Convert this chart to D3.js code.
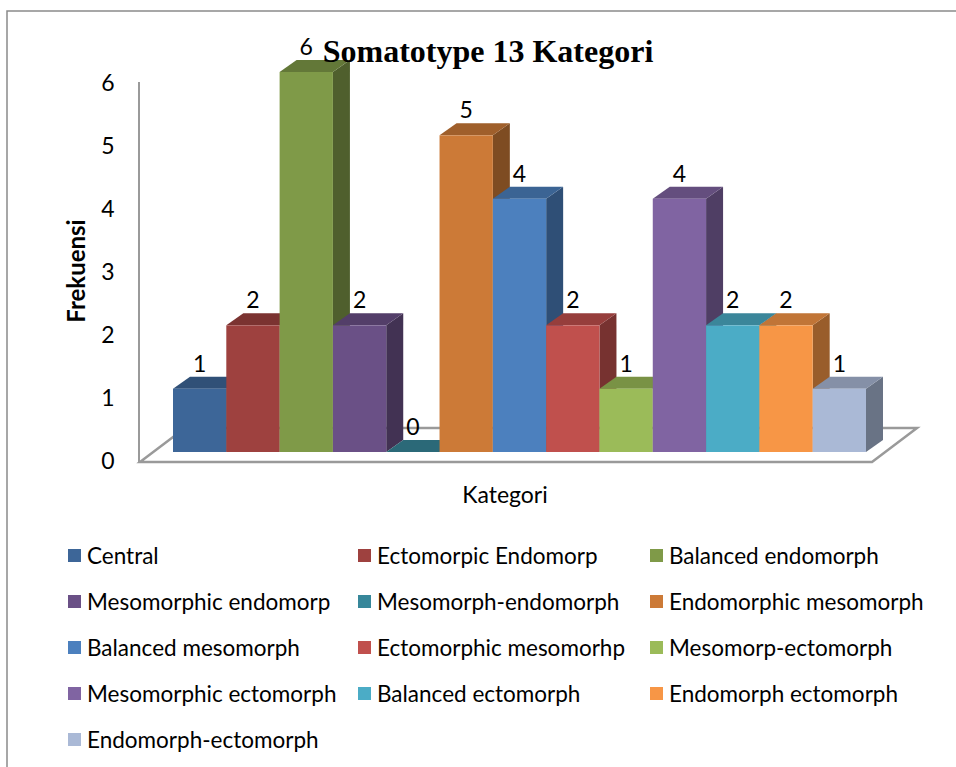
<!DOCTYPE html>
<html>
<head>
<meta charset="utf-8">
<script src="https://cdn.jsdelivr.net/npm/d3@7"></script>
<style>
  body { margin: 0; background: #fff; }
  svg text { font-family: Lato, "Open Sans", sans-serif; fill: #000; }
</style>
</head>
<body>
<svg id="chart" width="956" height="767"></svg>
<script>
// data
const categories = [
  "Central", "Ectomorpic Endomorp", "Balanced endomorph",
  "Mesomorphic endomorp", "Mesomorph-endomorph", "Endomorphic mesomorph",
  "Balanced mesomorph", "Ectomorphic mesomorhp", "Mesomorp-ectomorph",
  "Mesomorphic ectomorph", "Balanced ectomorph", "Endomorph ectomorph",
  "Endomorph-ectomorph"
];
const values = [1, 2, 6, 2, 0, 5, 4, 2, 1, 4, 2, 2, 1];
const colors = [
  "#3D6698", "#9E413F", "#7F9A48", "#6A5086", "#37879A", "#CC7A37",
  "#4C80BE", "#C0504D", "#9BBB59", "#8064A2", "#4BACC6", "#F79646",
  "#AAB9D6"
];
const yTicks = [0, 1, 2, 3, 4, 5, 6];

// depth of the 3d bars and of the floor
const DX = 17, DY = -12;
const FLOOR_DX = 45, FLOOR_DY = -34;

function shade(c, k) {
  const r = d3.rgb(c);
  return d3.rgb(r.r * k, r.g * k, r.b * k).formatHex();
}

const svg = d3.select("#chart");

// outer frame (cut off at right and bottom)
svg.append("path")
  .attr("d", "M7,767V11H956")
  .attr("fill", "none")
  .attr("stroke", "#8a8a8a")
  .attr("stroke-width", 1.5);

const x = d3.scaleBand()
  .domain(categories)
  .range([173, 866])
  .paddingInner(0);

const y = d3.scaleLinear()
  .domain([0, 6])
  .range([452, 72]);

const yAxisScale = d3.scaleLinear()
  .domain([0, 6])
  .range([461, 83]);

// floor
const fx0 = 140, fx1 = 872, fy = 462;
svg.append("path")
  .attr("d", `M${fx0},${fy}L${fx1},${fy}L${fx1 + FLOOR_DX},${fy + FLOOR_DY}L${fx0 + FLOOR_DX},${fy + FLOOR_DY}Z`)
  .attr("fill", "#fff")
  .attr("stroke", "#9a9a9a")
  .attr("stroke-width", 2.5);

// vertical axis line
svg.append("line")
  .attr("x1", 139).attr("x2", 139)
  .attr("y1", 82).attr("y2", fy)
  .attr("stroke", "#9a9a9a")
  .attr("stroke-width", 2);

// y tick labels
svg.append("g")
  .selectAll("text")
  .data(yTicks)
  .enter()
  .append("text")
  .attr("x", 108)
  .attr("y", d => yAxisScale(d))
  .attr("dy", "0.36em")
  .attr("text-anchor", "middle")
  .style("font-size", "23px")
  .text(d => d);

// bars, drawn left to right so the next bar hides the previous side face
const bars = svg.append("g");
categories.forEach((c, i) => {
  const x0 = x(c), x1 = x0 + x.bandwidth();
  const yt = y(values[i]), yb = y(0);
  const g = bars.append("g");
  g.append("path")
    .attr("d", `M${x1},${yb}L${x1 + DX},${yb + DY}L${x1 + DX},${yt + DY}L${x1},${yt}Z`)
    .attr("fill", shade(colors[i], 0.62));
  g.append("path")
    .attr("d", `M${x0},${yt}L${x0 + DX},${yt + DY}L${x1 + DX},${yt + DY}L${x1},${yt}Z`)
    .attr("fill", shade(colors[i], 0.78));
  g.append("rect")
    .attr("x", x0)
    .attr("y", yt)
    .attr("width", x.bandwidth())
    .attr("height", yb - yt)
    .attr("fill", colors[i]);
});

// value labels
svg.append("g")
  .selectAll("text")
  .data(values)
  .enter()
  .append("text")
  .attr("x", (d, i) => x(categories[i]) + x.bandwidth() / 2)
  .attr("y", d => y(d) + DY - 5)
  .attr("text-anchor", "middle")
  .style("font-size", "23px")
  .text(d => d);

// title
svg.append("text")
  .attr("x", 488)
  .attr("y", 62)
  .attr("text-anchor", "middle")
  .style("font-family", "'Liberation Serif', 'Times New Roman', serif")
  .style("font-weight", "bold")
  .style("font-size", "32px")
  .text("Somatotype 13 Kategori");

// axis titles
svg.append("text")
  .attr("transform", "translate(85,271) rotate(-90)")
  .attr("text-anchor", "middle")
  .style("font-weight", "bold")
  .style("font-size", "24px")
  .text("Frekuensi");

svg.append("text")
  .attr("x", 505)
  .attr("y", 503)
  .attr("text-anchor", "middle")
  .style("font-size", "23px")
  .text("Kategori");

// legend, 3 columns
const legendCols = [68, 358, 650];
const legendRows = [556, 602, 648, 694, 740];
const legend = svg.append("g")
  .selectAll("g")
  .data(categories)
  .enter()
  .append("g")
  .attr("transform", (d, i) => `translate(${legendCols[i % 3]},${legendRows[Math.floor(i / 3)]})`);

legend.append("rect")
  .attr("x", 0)
  .attr("y", -7)
  .attr("width", 13)
  .attr("height", 13)
  .attr("fill", (d, i) => colors[i]);

legend.append("text")
  .attr("x", 19)
  .attr("y", 0)
  .attr("dy", "0.36em")
  .style("font-size", "22.5px")
  .text(d => d);
</script>
</body>
</html>
